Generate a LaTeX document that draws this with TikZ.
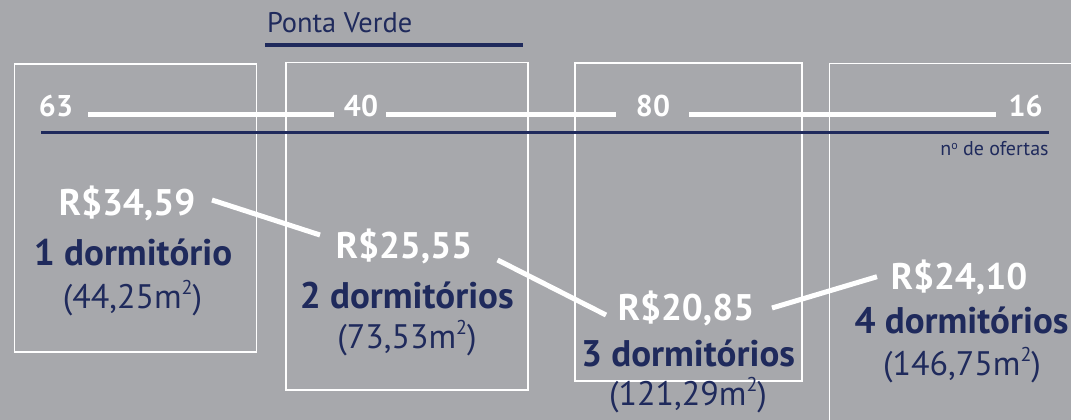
\documentclass[tikz,border=0pt]{standalone}
\usepackage{fontspec}
\setmainfont{PT Sans}
\definecolor{bg}{HTML}{A7A8AC}
\definecolor{navy}{HTML}{1F2A5C}
\newcommand{\sqm}{m\raisebox{0.4em}{\fontsize{20}{20}\selectfont 2}}
\begin{document}
\begin{tikzpicture}[x=1pt,y=-1pt,
  every node/.style={inner sep=0pt,outer sep=0pt,anchor=base},
  numtxt/.style={text=white,font=\bfseries\fontsize{30}{30}\selectfont},
  price/.style={text=white,font=\bfseries\fontsize{37}{37}\selectfont},
  dorm/.style={text=navy,font=\bfseries\fontsize{37}{37}\selectfont},
  area/.style={text=navy,font=\fontsize{34}{34}\selectfont},
  wline/.style={draw=white,line width=5pt},
  boxline/.style={draw=white,line width=1.6pt}]
\fill[bg] (0,0) rectangle (1071,420);
\useasboundingbox (0,0) rectangle (1071,420);
\begin{scope}
\clip (0,0) rectangle (1071,420);
% boxes
\draw[boxline] (14.5,64) rectangle (256.5,352);
\draw[boxline] (286,62.5) rectangle (528,390);
\draw[boxline] (575,63) rectangle (802,381);
\draw[boxline] (829.5,440) -- (829.5,63.5) -- (1090,63.5);
\end{scope}
% title
\node[anchor=base west,text=navy,font=\fontsize{28.4}{28.4}\selectfont] (title) at (267,33) {Ponta Verde};
\draw[navy,line width=4.7pt] (265,45) -- (523,45);
% offers axis
\node[numtxt] (n63) at (56,117) {63};
\node[numtxt] (n40) at (361,117) {40};
\node[numtxt] (n80) at (653,117) {80};
\node[numtxt] (n16) at (1025.6,117) {16};
\coordinate (s1a) at (88,114);  \coordinate (s1b) at (334,114);
\coordinate (s2a) at (386,114); \coordinate (s2b) at (616,114);
\coordinate (s3a) at (689,114); \coordinate (s3b) at (995.5,114);
\draw[wline] (s1a) -- (s1b);
\draw[wline] (s2a) -- (s2b);
\draw[wline] (s3a) -- (s3b);
\coordinate (axl) at (41,132.7); \coordinate (axr) at (1048.6,132.7);
\draw[navy,line width=2.6pt] (axl) -- (axr);
\node[anchor=base east,text=navy,font=\fontsize{20}{20}\selectfont] (of) at (1048.6,155) {n\raisebox{0.3em}{\fontsize{12}{12}\selectfont o} de ofertas};
% unit 1
\node[price] (p1) at (127,215) {R\$34,59};
\node[dorm] (d1) at (133,265) {1 dormitório};
\node[area] (a1) at (132.5,308) {(44,25\sqm)};
% unit 2
\node[price] (p2) at (404,258) {R\$25,55};
\node[dorm] (d2) at (406.7,308) {2 dormitórios};
\node[area] (a2) at (407,348) {(73,53\sqm)};
% unit 3
\node[price] (p3) at (686,320) {R\$20,85};
\node[dorm] (d3) at (688,366.7) {3 dormitórios};
\node[area] (a3) at (688,405) {(121,29\sqm)};
% unit 4
\node[price] (p4) at (959,289) {R\$24,10};
\node[dorm] (d4) at (961.5,333) {4 dormitórios};
\node[area] (a4) at (962,375) {(146,75\sqm)};
% price connectors
\coordinate (c1a) at (212,200); \coordinate (c1b) at (320,235);
\coordinate (c2a) at (497.6,260); \coordinate (c2b) at (606,315);
\coordinate (c3a) at (772,308); \coordinate (c3b) at (877,276.7);
\draw[wline] (c1a) -- (c1b);
\draw[wline] (c2a) -- (c2b);
\draw[wline] (c3a) -- (c3b);
\end{tikzpicture}
\end{document}
